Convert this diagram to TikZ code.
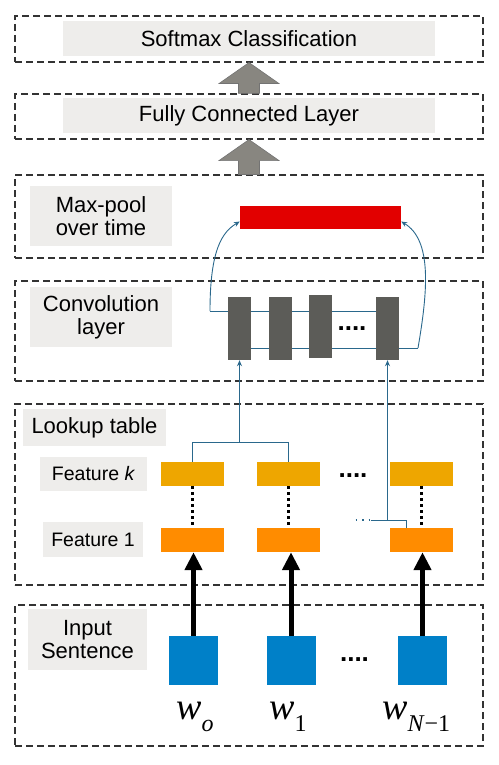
\documentclass[tikz,border=0pt]{standalone}
\usepackage{fontspec}
\setmainfont{Liberation Sans}
\newfontfamily\wordfont{Liberation Serif}
\usetikzlibrary{arrows.meta,calc,backgrounds}

\definecolor{labelgray}{RGB}{238,237,235}
\definecolor{poolred}{RGB}{226,0,0}
\definecolor{convgray}{RGB}{92,92,88}
\definecolor{featk}{RGB}{238,166,0}
\definecolor{featone}{RGB}{255,140,0}
\definecolor{wordblue}{RGB}{0,128,200}
\definecolor{linkblue}{RGB}{42,104,140}
\definecolor{arrowgray}{RGB}{136,134,128}

% block arrow from a layer (#1, bottom) up to the next one (#2, tip)
\newcommand{\blockup}[2]{%
  \filldraw[blockarrow] (#2) -- ++(30,21) -- ++(-19.5,0) |- (#1) -- ++(-10.5,0)
    |- ($(#2)+(-10.5,21)$) -- ++(-19.5,0) -- cycle;}
% word with a lowered index
\newcommand{\wordsub}[1]{\textit{w}\raisebox{-12pt}{\fontsize{24}{24}\selectfont #1}}

\begin{document}
\begin{tikzpicture}[x=1pt,y=-1pt,
  layer/.style={draw=black!80,line width=1.1pt,dash pattern=on 7pt off 4pt,
    minimum width=468pt,inner sep=0pt},
  tag/.style={fill=labelgray,inner sep=0pt,align=center,
    font=\fontsize{22}{23}\selectfont},
  feattag/.style={tag,font=\fontsize{19.5}{22}\selectfont},
  poolbar/.style={fill=poolred,minimum width=161pt,minimum height=23pt,inner sep=0pt},
  convbar/.style={fill=convgray,minimum width=23pt,minimum height=63pt,inner sep=0pt},
  featbox/.style={minimum width=63pt,minimum height=24pt,inner sep=0pt},
  wordbox/.style={fill=wordblue,minimum size=49pt,inner sep=0pt},
  wlabel/.style={inner sep=0pt,anchor=base west,font=\wordfont\fontsize{38}{40}\selectfont},
  dots/.style={inner sep=0pt,anchor=base,font=\fontsize{26}{26}\selectfont\bfseries},
  link/.style={draw=linkblue,line width=0.9pt},
  linkarrow/.style={link,-{Stealth[length=6pt,width=5pt]}},
  thickarrow/.style={line width=5pt,-{Triangle[length=18pt,width=17pt]}},
  dotline/.style={line width=3pt,dash pattern=on 3pt off 3pt},
  blockarrow/.style={fill=arrowgray,draw=black!55,line width=0.6pt}]

\useasboundingbox (0,0) rectangle (498,765);

% layers
\node[layer,minimum height=46pt] (smlayer) at (249,39) {};
\node[layer,minimum height=45pt] (fclayer) at (249,116.5) {};
\node[layer,minimum height=83pt] (mplayer) at (249,216.5) {};
\node[layer,minimum height=100pt] (cvlayer) at (249,331) {};
\node[layer,minimum height=181pt] (lklayer) at (249,494.5) {};
\node[layer,minimum height=141pt] (inlayer) at (249,675.5) {};

\node[tag,minimum width=372pt,minimum height=35pt] (smtag) at (249,38.5) {Softmax Classification};
\node[tag,minimum width=372pt,minimum height=35pt] (fctag) at (249,115.5) {Fully Connected Layer};
\node[tag,minimum width=142pt,minimum height=60pt] (mptag) at (101,216) {Max-pool\\over time};
\node[tag,minimum width=142pt,minimum height=60pt] (cvtag) at (101,317) {Convolution\\layer};
\node[tag,minimum width=143pt,minimum height=37pt] (lktag) at (94.5,427.5) {Lookup table};
\node[feattag,minimum width=107pt,minimum height=34pt] (fktag) at (93.5,474) {Feature \textit{k}};
\node[feattag,minimum width=100pt,minimum height=35pt] (fotag) at (93,539.5) {Feature 1};
\node[tag,minimum width=119pt,minimum height=61pt] (intag) at (87.5,639.5) {Input\\Sentence};

\blockup{fclayer.north}{smlayer.south}
\blockup{mplayer.north}{fclayer.south}

% max-pool and convolution
\node[poolbar] (pool) at (320.5,217.5) {};
\node[convbar] (c1) at (239.5,328.5) {};
\node[convbar] (c2) at (280,328.5) {};
\node[convbar] (c3) at (320,326.5) {};
\node[convbar] (c4) at (387.5,328.5) {};
\node[dots] (cvdots) at (352,330) {....};

\coordinate (cvleft) at (210,311);
\coordinate (cvright) at (418,348);
\begin{scope}[on background layer]
\draw[link] (cvleft) -- (c4.west |- cvleft);
\draw[link] (c1.east |- cvright) -- (cvright);
\end{scope}
\draw[linkarrow] (cvleft) .. controls (210,250) and (222,232) .. ([yshift=-4pt]pool.west);
\draw[linkarrow] (cvright) .. controls (428,290) and (432,240) .. ([yshift=-4pt]pool.east);

% lookup table
\node[featbox,fill=featk] (k1) at (192.5,474) {};
\node[featbox,fill=featk] (k2) at (288.5,474) {};
\node[featbox,fill=featk] (k3) at (421,474) {};
\node[featbox,fill=featone] (o1) at (192.5,540) {};
\node[featbox,fill=featone] (o2) at (288.5,540) {};
\node[featbox,fill=featone] (o3) at (421,540) {};
\node[dots] (kdots) at (353,477) {....};

\foreach \i in {1,2,3}
  \draw[dotline] (k\i.south) -- (o\i.north);

\coordinate (kjoin) at ([yshift=-82pt]c1.south);
\draw[link] (k1.north) |- (kjoin) -| (k2.north);
\draw[linkarrow] (kjoin) -- (c1.south);

\coordinate (njoin) at ([yshift=-160pt]c4.south);
\coordinate (nstub) at ([xshift=-17pt]njoin);
\coordinate (nfeed) at ([xshift=18.5pt]njoin);
\draw[linkarrow] (njoin) -- (c4.south);
\draw[link] (nstub) -- (nfeed) -- (nfeed |- o3.north);
\draw[link,line width=1.6pt,dash pattern=on 1.6pt off 5pt] ([xshift=-15pt]nstub) -- (nstub);

% input sentence
\node[wordbox] (w1) at (193.5,660.5) {};
\node[wordbox] (w2) at (291,660.5) {};
\node[wordbox] (w3) at (422.5,660.5) {};
\node[dots] (wdots) at (354.5,661) {....};

\draw[thickarrow] (w1.north) -- (w1.north |- o1.south);
\draw[thickarrow] (w2.north) -- (w2.north |- o2.south);
\draw[thickarrow] (w3.north) -- (w3.north |- o3.south);

\node[wlabel] (w1lab) at (176,719) {\wordsub{\textit{o}}};
\node[wlabel] (w2lab) at (269,719) {\wordsub{1}};
\node[wlabel] (w3lab) at (382,719) {\wordsub{\textit{N}−1}};
\end{tikzpicture}
\end{document}
